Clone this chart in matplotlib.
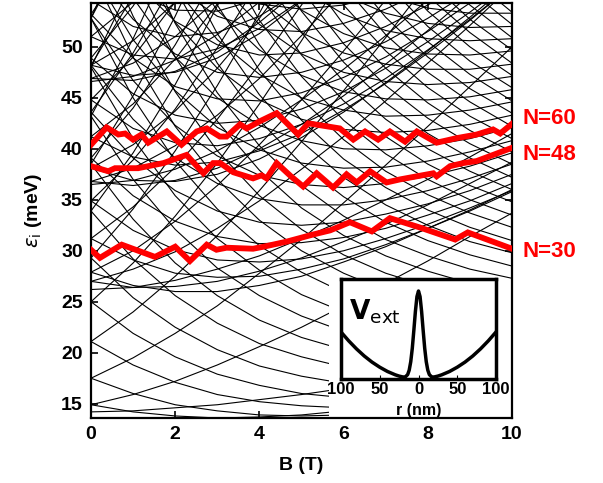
import matplotlib
matplotlib.use("Agg")
import matplotlib.pyplot as plt
from matplotlib.patches import Rectangle

plt.rcParams['font.family'] = ['Liberation Sans', 'DejaVu Sans']
nan = float('nan')

# magnetic field samples (T)
B_T = [0, 1, 2, 3, 4, 5, 6, 7, 8, 9, 10]

# single-particle levels (meV), one row per level
lv_n0_dn = [
    [14.2, 14.3, 14.6, 14.9, 15.4, 15.9, 16.5, 17.2, 17.9, 18.6, 19.3],
    [14.9, 14.2, 13.8, 13.6, 13.7, 13.9, 14.3, 14.7, 15.2, 15.8, 16.4],
    [17.5, 16.0, 14.9, 14.3, 13.9, 13.8, 13.9, 14.2, 14.5, 15.0, 15.5],
    [21.1, 18.8, 17.1, 15.9, 15.2, 14.8, 14.6, 14.6, 14.8, 15.1, 15.5],
    [25.0, 21.9, 19.6, 17.9, 16.8, 16.0, 15.6, 15.4, 15.4, 15.6, 15.8],
    [29.3, 25.4, 22.5, 20.3, 18.7, 17.7, 17.0, 16.6, 16.4, 16.4, 16.6],
    [33.9, 29.2, 25.6, 22.9, 20.9, 19.6, 18.6, 18.0, 17.7, 17.6, 17.6],
    [38.5, 33.1, 28.8, 25.6, 23.2, 21.5, 20.3, 19.5, 19.0, 18.8, 18.7],
    [43.2, 37.0, 32.1, 28.3, 25.6, 23.6, 22.1, 21.1, 20.4, 20.0, 19.8],
    [48.0, 41.0, 35.4, 31.2, 28.1, 25.7, 24.0, 22.8, 21.9, 21.4, 21.0],
    [52.8, 45.0, 38.8, 34.1, 30.5, 27.9, 25.9, 24.4, 23.4, 22.7, 22.3],
    [57.6, 49.0, 42.2, 37.0, 33.0, 30.0, 27.8, 26.1, 25.0, 24.1, 23.6],
    [62.4, 53.0, 45.6, 39.8, 35.4, 32.1, 29.6, 27.8, 26.5, 25.5, 24.8],
    [nan, 57.0, 49.0, 42.7, 37.9, 34.2, 31.5, 29.5, 28.0, 26.8, 26.1],
    [nan, 61.1, 52.3, 45.5, 40.3, 36.4, 33.4, 31.1, 29.5, 28.2, 27.3],
    [nan, nan, 55.7, 48.4, 42.8, 38.5, 35.3, 32.8, 31.0, 29.6, 28.5],
    [nan, nan, 59.1, 51.3, 45.3, 40.7, 37.2, 34.5, 32.5, 30.9, 29.8],
    [nan, nan, 62.5, 54.1, 47.7, 42.8, 39.0, 36.2, 34.0, 32.3, 31.0],
    [nan, nan, nan, 57.0, 50.2, 44.9, 40.9, 37.8, 35.5, 33.7, 32.3],
    [nan, nan, nan, 59.9, 52.6, 47.1, 42.8, 39.5, 37.0, 35.0, 33.5],
    [nan, nan, nan, nan, 55.1, 49.2, 44.7, 41.2, 38.5, 36.4, 34.8],
    [nan, nan, nan, nan, 57.6, 51.4, 46.6, 42.9, 40.0, 37.8, 36.0],
    [nan, nan, nan, nan, 60.0, 53.5, 48.5, 44.5, 41.5, 39.1, 37.2],
    [nan, nan, nan, nan, nan, 55.6, 50.3, 46.2, 43.0, 40.5, 38.5],
    [nan, nan, nan, nan, nan, 57.8, 52.2, 47.9, 44.5, 41.8, 39.7],
    [nan, nan, nan, nan, nan, 59.9, 54.1, 49.6, 46.0, 43.2, 41.0],
    [nan, nan, nan, nan, nan, nan, 56.0, 51.2, 47.5, 44.6, 42.2],
    [nan, nan, nan, nan, nan, nan, 57.9, 52.9, 49.0, 45.9, 43.5],
    [nan, nan, nan, nan, nan, nan, nan, 54.6, 50.5, 47.3, 44.7],
    [nan, nan, nan, nan, nan, nan, nan, 56.3, 52.0, 48.6, 46.0],
    [nan, nan, nan, nan, nan, nan, nan, 58.0, 53.5, 50.0, 47.2],
    [nan, nan, nan, nan, nan, nan, nan, nan, 55.0, 51.4, 48.4],
    [nan, nan, nan, nan, nan, nan, nan, nan, 56.5, 52.7, 49.7],
    [nan, nan, nan, nan, nan, nan, nan, nan, 58.0, 54.1, 50.9],
    [nan, nan, nan, nan, nan, nan, nan, nan, nan, 55.5, 52.2],
    [nan, nan, nan, nan, nan, nan, nan, nan, nan, 56.8, 53.4],
]
lv_n0_up = [
    [14.9, 15.9, 17.2, 18.8, 20.6, 22.5, 24.6, 26.8, 29.0, 31.4, 33.7],
    [17.5, 19.5, 21.9, 24.6, 27.8, 31.1, 34.7, 38.4, 42.2, 46.1, 50.0],
    [21.1, 24.0, 27.5, 31.5, 35.9, 40.7, 45.7, 50.9, 56.3, nan, nan],
    [25.0, 28.8, 33.4, 38.6, 44.4, 50.6, 57.1, nan, nan, nan, nan],
    [29.3, 34.1, 39.8, 46.2, 53.3, 60.9, nan, nan, nan, nan, nan],
    [33.9, 39.6, 46.3, 54.0, 62.4, nan, nan, nan, nan, nan, nan],
    [38.5, 45.2, 53.0, 61.9, nan, nan, nan, nan, nan, nan, nan],
    [43.2, 50.8, 59.7, nan, nan, nan, nan, nan, nan, nan, nan],
    [48.0, 56.5, nan, nan, nan, nan, nan, nan, nan, nan, nan],
    [52.8, 62.3, nan, nan, nan, nan, nan, nan, nan, nan, nan],
]
lv_n1_dn = [
    [26.2, 26.4, 27.1, 28.2, 29.5, 31.2, 33.0, 35.0, 37.0, 39.2, 41.5],
    [27.0, 26.4, 26.5, 27.0, 28.0, 29.3, 30.9, 32.6, 34.5, 36.6, 38.7],
    [27.9, 26.6, 26.0, 26.0, 26.6, 27.5, 28.9, 30.4, 32.2, 34.0, 36.0],
    [31.2, 29.1, 27.8, 27.4, 27.5, 28.2, 29.2, 30.6, 32.2, 33.9, 35.8],
    [34.9, 32.0, 30.1, 29.1, 28.9, 29.2, 30.0, 31.2, 32.6, 34.2, 35.9],
    [39.1, 35.4, 32.9, 31.4, 30.7, 30.8, 31.3, 32.2, 33.5, 34.9, 36.6],
    [43.6, 39.1, 35.9, 33.9, 32.8, 32.5, 32.8, 33.6, 34.6, 35.9, 37.5],
    [48.2, 42.9, 39.1, 36.6, 35.1, 34.5, 34.5, 35.0, 35.9, 37.1, 38.5],
    [52.8, 46.7, 42.3, 39.3, 37.4, 36.5, 36.2, 36.6, 37.3, 38.3, 39.6],
    [57.6, 50.7, 45.7, 42.1, 39.9, 38.6, 38.1, 38.2, 38.8, 39.7, 40.8],
    [62.4, 54.8, 49.0, 45.0, 42.3, 40.8, 40.0, 39.9, 40.3, 41.0, 42.1],
    [nan, 58.8, 52.4, 47.9, 44.8, 42.9, 41.9, 41.6, 41.8, 42.4, 43.3],
    [nan, 62.8, 55.8, 50.7, 47.3, 45.0, 43.8, 43.2, 43.3, 43.8, 44.6],
    [nan, nan, 59.2, 53.6, 49.7, 47.2, 45.6, 44.9, 44.8, 45.1, 45.8],
    [nan, nan, 62.5, 56.4, 52.2, 49.3, 47.5, 46.6, 46.3, 46.5, 47.1],
    [nan, nan, nan, 59.3, 54.6, 51.4, 49.4, 48.3, 47.8, 47.8, 48.3],
    [nan, nan, nan, 62.2, 57.1, 53.6, 51.3, 49.9, 49.3, 49.2, 49.6],
    [nan, nan, nan, nan, 59.5, 55.7, 53.2, 51.6, 50.8, 50.6, 50.8],
    [nan, nan, nan, nan, 62.0, 57.9, 55.1, 53.3, 52.3, 51.9, 52.0],
    [nan, nan, nan, nan, nan, 60.0, 56.9, 55.0, 53.8, 53.3, 53.3],
]
lv_n1_up = [
    [27.0, 28.2, 29.9, 32.2, 34.9, 38.0, 41.2, 44.7, 48.4, 52.1, 56.0],
    [27.9, 30.0, 32.9, 36.4, 40.4, 44.8, 49.6, 54.6, nan, nan, nan],
    [31.2, 34.3, 38.2, 42.9, 48.3, 54.1, 60.3, nan, nan, nan, nan],
    [34.9, 38.9, 43.9, 49.9, 56.5, nan, nan, nan, nan, nan, nan],
    [39.1, 44.0, 50.2, 57.3, nan, nan, nan, nan, nan, nan, nan],
    [43.6, 49.4, 56.6, nan, nan, nan, nan, nan, nan, nan, nan],
    [48.2, 55.0, nan, nan, nan, nan, nan, nan, nan, nan, nan],
    [52.8, 60.6, nan, nan, nan, nan, nan, nan, nan, nan, nan],
]
lv_n2_dn = [
    [36.5, 36.9, 38.0, 39.8, 42.1, 44.8, 47.8, 51.1, 54.6, 58.2, nan],
    [36.8, 36.4, 36.9, 38.1, 40.0, 42.4, 45.2, 48.3, 51.6, 55.1, 58.7],
    [38.1, 36.9, 36.8, 37.5, 39.0, 41.1, 43.6, 46.5, 49.6, 52.9, 56.4],
    [41.2, 39.2, 38.4, 38.7, 39.8, 41.5, 43.8, 46.4, 49.4, 52.6, 56.0],
    [44.8, 42.0, 40.6, 40.3, 41.0, 42.4, 44.4, 46.9, 49.7, 52.7, 56.0],
    [48.9, 45.4, 43.3, 42.5, 42.8, 43.9, 45.6, 47.9, 50.5, 53.4, 56.5],
    [53.2, 48.9, 46.1, 44.9, 44.7, 45.5, 47.0, 49.0, 51.5, 54.3, 57.3],
    [57.8, 52.7, 49.3, 47.5, 47.0, 47.5, 48.7, 50.5, 52.8, 55.4, nan],
    [nan, 56.5, 52.5, 50.2, 49.2, 49.4, 50.4, 52.0, 54.1, 56.6, nan],
    [nan, 60.5, 55.9, 53.0, 51.7, 51.5, 52.3, 53.7, 55.6, nan, nan],
    [nan, nan, 59.2, 55.9, 54.2, 53.7, 54.1, 55.3, nan, nan, nan],
]
lv_n2_up = [
    [36.8, 38.1, 40.3, 43.3, 46.9, 51.1, 55.6, nan, nan, nan, nan],
    [38.1, 40.4, 43.7, 47.9, 52.8, 58.3, nan, nan, nan, nan, nan],
    [41.2, 44.4, 48.8, 54.2, 60.5, nan, nan, nan, nan, nan, nan],
    [44.8, 49.0, 54.4, 61.1, nan, nan, nan, nan, nan, nan, nan],
    [48.9, 54.0, 60.6, nan, nan, nan, nan, nan, nan, nan, nan],
    [53.2, 59.2, nan, nan, nan, nan, nan, nan, nan, nan, nan],
]
lv_n3_dn = [
    [46.6, 47.1, 48.7, 51.2, 54.4, 58.2, nan, nan, nan, nan, nan],
    [46.9, 46.7, 47.6, 49.5, 52.4, 55.8, nan, nan, nan, nan, nan],
    [48.2, 47.2, 47.5, 48.9, 51.3, 54.5, 58.2, nan, nan, nan, nan],
    [51.0, 49.2, 48.8, 49.8, 51.8, 54.6, 58.1, nan, nan, nan, nan],
    [54.6, 52.0, 51.0, 51.4, 53.0, 55.6, nan, nan, nan, nan, nan],
    [58.6, 55.2, 53.6, 53.5, 54.7, 56.9, nan, nan, nan, nan, nan],
]
lv_n3_up = [
    [46.9, 48.4, 51.0, 54.7, 59.3, nan, nan, nan, nan, nan, nan],
    [48.2, 50.6, 54.4, 59.3, nan, nan, nan, nan, nan, nan, nan],
    [51.0, 54.4, 59.2, nan, nan, nan, nan, nan, nan, nan, nan],
]

# highest occupied level for N = 30, 48, 60 electrons
n30_B = [0, 0.21, 0.73, 1.52, 2.0, 2.35, 2.75, 2.98, 3.22, 3.85, 4.1, 4.65, 5.28, 5.68, 6.15, 6.67, 7.1, 7.8, 8.65, 8.95, 10]
n30_E = [30.1, 29.3, 30.6, 29.4, 30.4, 29.0, 30.6, 30.1, 30.3, 30.2, 30.4, 30.9, 31.6, 32.0, 32.8, 31.9, 33.2, 32.3, 31.1, 31.8, 30.2]
n48_B = [0, 0.41, 0.57, 1.12, 1.72, 2.27, 2.67, 2.9, 3.07, 3.38, 3.85, 4.05, 4.17, 4.41, 4.75, 5.04, 5.36, 5.75, 6.07, 6.31, 6.63, 7.02, 7.34, 8.13, 8.21, 8.53, 8.84, 9.16, 9.55, 10]
n48_E = [38.3, 37.8, 38.1, 38.1, 38.6, 39.4, 37.6, 38.6, 38.6, 37.7, 37.1, 37.4, 37.1, 38.6, 37.3, 36.3, 37.6, 36.2, 37.5, 36.7, 37.8, 36.7, 37.0, 37.6, 37.3, 38.3, 38.6, 38.8, 39.4, 40.1]
n60_B = [0, 0.37, 0.65, 0.81, 1.0, 1.2, 1.36, 1.8, 2.15, 2.51, 2.75, 3.06, 3.22, 3.54, 3.7, 4.01, 4.41, 4.73, 4.92, 5.16, 5.91, 6.23, 6.51, 6.82, 7.1, 7.46, 7.74, 8.21, 8.69, 9.16, 9.55, 9.72, 10]
n60_E = [40.4, 42.1, 41.4, 41.5, 40.9, 41.4, 40.6, 41.7, 40.4, 41.7, 42.0, 41.2, 41.2, 42.4, 42.0, 42.7, 43.5, 42.2, 41.4, 42.5, 42.0, 40.9, 41.7, 40.9, 41.7, 40.7, 41.7, 40.6, 41.05, 41.4, 41.9, 41.5, 42.45]
n_labels = ['N=60', 'N=48', 'N=30']
n_label_E = [43.0, 39.4, 29.9]

# inset: external confinement potential (arb. units)
r_nm = [-100, -90, -80, -70, -60, -50, -40, -30, -25, -20, -17, -14, -12, -10, -8, -6, -4, -2, 0,
        2, 4, 6, 8, 10, 12, 14, 17, 20, 25, 30, 40, 50, 60, 70, 80, 90, 100]
v_ext = [0.470, 0.381, 0.301, 0.230, 0.169, 0.118, 0.075, 0.042, 0.029, 0.020, 0.021, 0.044, 0.088, 0.173, 0.308, 0.487, 0.676, 0.824, 0.880,
         0.824, 0.676, 0.487, 0.308, 0.173, 0.088, 0.044, 0.021, 0.020, 0.029, 0.042, 0.075, 0.118, 0.169, 0.230, 0.301, 0.381, 0.470]
r_ticks = [-100, -50, 0, 50, 100]
r_ticklabels = ['100', '50', '0', '50', '100']

fig = plt.figure(figsize=(6.03, 4.83), dpi=100)
ax = fig.add_axes([91/603, 65/483, 421/603, 415/483])

for fam in (lv_n0_dn, lv_n0_up, lv_n1_dn, lv_n1_up, lv_n2_dn, lv_n2_up, lv_n3_dn, lv_n3_up):
    for row in fam:
        ax.plot(B_T, row, color='black', lw=0.8, zorder=1)

# blank area behind the inset and its labels
ax.add_patch(Rectangle((5.65, 13.0), 4.5, 14.25, facecolor='white', edgecolor='none', zorder=2))

for bb, ee in [(n30_B, n30_E), (n48_B, n48_E), (n60_B, n60_E)]:
    ax.plot(bb, ee, color='#ff0000', lw=4.2, zorder=3, solid_joinstyle='miter')

ax.set_xlim(0, 10)
ax.set_ylim(13.6, 54.3)
ax.set_xticks([0, 2, 4, 6, 8, 10])
ax.set_yticks([15, 20, 25, 30, 35, 40, 45, 50])
ax.tick_params(direction='in', length=5, width=1.2, top=True, right=True, labelsize=14, pad=6)
for t in ax.get_xticklabels() + ax.get_yticklabels():
    t.set_fontweight('bold')
for sp in ax.spines.values():
    sp.set_linewidth(1.6)
ax.set_xlabel('B (T)', fontsize=14, fontweight='bold', labelpad=10)
ax.set_ylabel(r'$\varepsilon_{\rm i}$ (meV)', fontsize=14, fontweight='bold', labelpad=12)

for lab, ey in zip(n_labels, n_label_E):
    ax.text(10.26, ey, lab, color='#ff0000', fontsize=16, fontweight='bold', va='center', ha='left', clip_on=False)

ins = fig.add_axes([341/603, 104/483, 155/603, 100/483])
ins.plot(r_nm, v_ext, color='black', lw=2.5)
ins.set_xlim(-100, 100)
ins.set_ylim(0, 1)
ins.set_yticks([])
ins.set_xticks(r_ticks)
ins.set_xticklabels(r_ticklabels)
ins.tick_params(direction='in', length=3, labelsize=12, pad=2)
for t in ins.get_xticklabels():
    t.set_fontweight('bold')
for sp in ins.spines.values():
    sp.set_linewidth(2.5)
ins.set_xlabel('r (nm)', fontsize=11.5, fontweight='bold')
ins.xaxis.set_label_coords(0.5, -0.235)
ins.text(0.05, 0.6, r'$\mathbf{V}_{\rm ext}$', transform=ins.transAxes, fontsize=19)

fig.savefig('out.png', dpi=100)
